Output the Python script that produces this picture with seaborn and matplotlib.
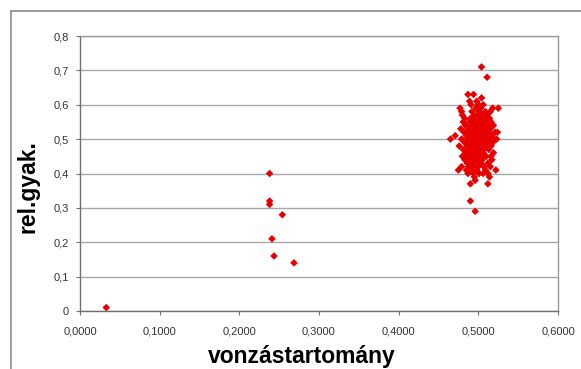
import matplotlib
matplotlib.use("Agg")
import matplotlib.pyplot as plt
import matplotlib.lines as mlines
import seaborn as sns
import pandas as pd
from matplotlib.ticker import FuncFormatter

# ---- data ----
low_x = [0.033]
low_y = [0.01]

mid_x = [0.238, 0.238, 0.238, 0.254, 0.241, 0.2435, 0.2686]
mid_y = [0.40, 0.32, 0.31, 0.28, 0.21, 0.16, 0.14]

cluster_rows = {
    0.71: [0.504],
    0.68: [0.511],
    0.63: [0.487, 0.494],
    0.62: [0.504],
    0.61: [0.489, 0.498],
    0.60: [0.491, 0.500, 0.506],
    0.59: [0.477, 0.497, 0.503, 0.518, 0.525],
    0.58: [0.479, 0.492, 0.501, 0.509, 0.515],
    0.57: [0.480, 0.495, 0.499, 0.505, 0.511],
    0.56: [0.483, 0.490, 0.494, 0.502, 0.508, 0.514],
    0.55: [0.481, 0.489, 0.493, 0.497, 0.503, 0.506, 0.510, 0.516],
    0.54: [0.484, 0.491, 0.495, 0.498, 0.501, 0.506, 0.512, 0.519],
    0.53: [0.478, 0.487, 0.493, 0.497, 0.500, 0.504, 0.509, 0.515],
    0.52: [0.482, 0.488, 0.492, 0.495, 0.499, 0.503, 0.507, 0.513, 0.521, 0.524],
    0.51: [0.471, 0.485, 0.490, 0.493, 0.496, 0.501, 0.505, 0.510, 0.517],
    0.50: [0.465, 0.479, 0.486, 0.489, 0.492, 0.497, 0.500, 0.504, 0.508, 0.514, 0.520, 0.523],
    0.49: [0.483, 0.489, 0.494, 0.499, 0.502, 0.507, 0.511, 0.518],
    0.48: [0.476, 0.486, 0.491, 0.494, 0.496, 0.500, 0.505, 0.509, 0.516],
    0.47: [0.481, 0.488, 0.493, 0.498, 0.503, 0.507, 0.513],
    0.46: [0.484, 0.490, 0.495, 0.498, 0.501, 0.506, 0.519],
    0.45: [0.480, 0.487, 0.492, 0.497, 0.502, 0.510, 0.516],
    0.44: [0.483, 0.489, 0.494, 0.499, 0.505, 0.517],
    0.43: [0.486, 0.491, 0.496, 0.503, 0.512],
    0.42: [0.479, 0.488, 0.493, 0.500, 0.507, 0.515],
    0.41: [0.475, 0.485, 0.490, 0.498, 0.509, 0.522],
    0.40: [0.487, 0.494, 0.501, 0.506, 0.512],
    0.39: [0.495, 0.514],
    0.38: [0.496],
    0.37: [0.490, 0.512],
    0.32: [0.490],
    0.29: [0.496],
}

x_ticks = [0.0, 0.1, 0.2, 0.3, 0.4, 0.5, 0.6]
y_ticks = [0.0, 0.1, 0.2, 0.3, 0.4, 0.5, 0.6, 0.7, 0.8]
x_label = "vonzástartomány"
y_label = "rel.gyak."

xs = low_x + mid_x
ys = low_y + mid_y
for yv, xl in cluster_rows.items():
    xs += xl
    ys += [yv] * len(xl)
df = pd.DataFrame({"x": xs, "y": ys})

# ---- figure ----
sns.set_style("white")
plt.rcParams["font.family"] = ["Liberation Sans", "DejaVu Sans"]

W, H = 581, 369
fig = plt.figure(figsize=(W / 100, H / 100), dpi=100)
ax = fig.add_axes([80 / W, 1 - 311 / H, (558 - 80) / W, (311 - 36) / H])

sns.scatterplot(data=df, x="x", y="y", ax=ax, marker="D", s=15,
                color="#e80000", edgecolor="none", linewidth=0, zorder=3)

ax.set_xlim(0, 0.6)
ax.set_ylim(0, 0.8)
ax.set_xticks(x_ticks)
ax.set_yticks(y_ticks)
ax.xaxis.set_major_formatter(FuncFormatter(lambda v, p: f"{v:.4f}".replace(".", ",")))
ax.yaxis.set_major_formatter(FuncFormatter(lambda v, p: "0" if abs(v) < 1e-9 else f"{v:.1f}".replace(".", ",")))
ax.set_xlabel("")
ax.set_ylabel("")

ax.grid(axis="y", color="#a8a8a8", linewidth=1.0, zorder=0)
ax.grid(axis="x", visible=False)
ax.set_axisbelow(True)
for side in ["top", "right"]:
    ax.spines[side].set_color("#9a9a9a")
    ax.spines[side].set_linewidth(1.0)
for side in ["left", "bottom"]:
    ax.spines[side].set_color("#707070")
    ax.spines[side].set_linewidth(1.0)

ax.tick_params(axis="both", which="major", direction="out", length=3,
               width=0.8, color="#707070", labelsize=8, labelcolor="#333333")
ax.tick_params(axis="x", pad=8.5, bottom=True)
ax.tick_params(axis="y", pad=5, left=True)

fig.text(302 / W, 1 - 357 / H, x_label, ha="center", va="center",
         fontsize=16.5, fontweight="bold", color="black")
fig.text(28 / W, 1 - 187 / H, y_label, ha="center", va="center",
         rotation=90, fontsize=16.5, fontweight="bold", color="black")

# outer frame (top and left edges)
fig.add_artist(mlines.Line2D([11 / W, 1.0], [1 - 11 / H, 1 - 11 / H],
                             transform=fig.transFigure, color="#8c8c8c", linewidth=1.2))
fig.add_artist(mlines.Line2D([11 / W, 11 / W], [0.0, 1 - 11 / H],
                             transform=fig.transFigure, color="#8c8c8c", linewidth=1.2))

fig.savefig("out.png", dpi=100, facecolor="white")
